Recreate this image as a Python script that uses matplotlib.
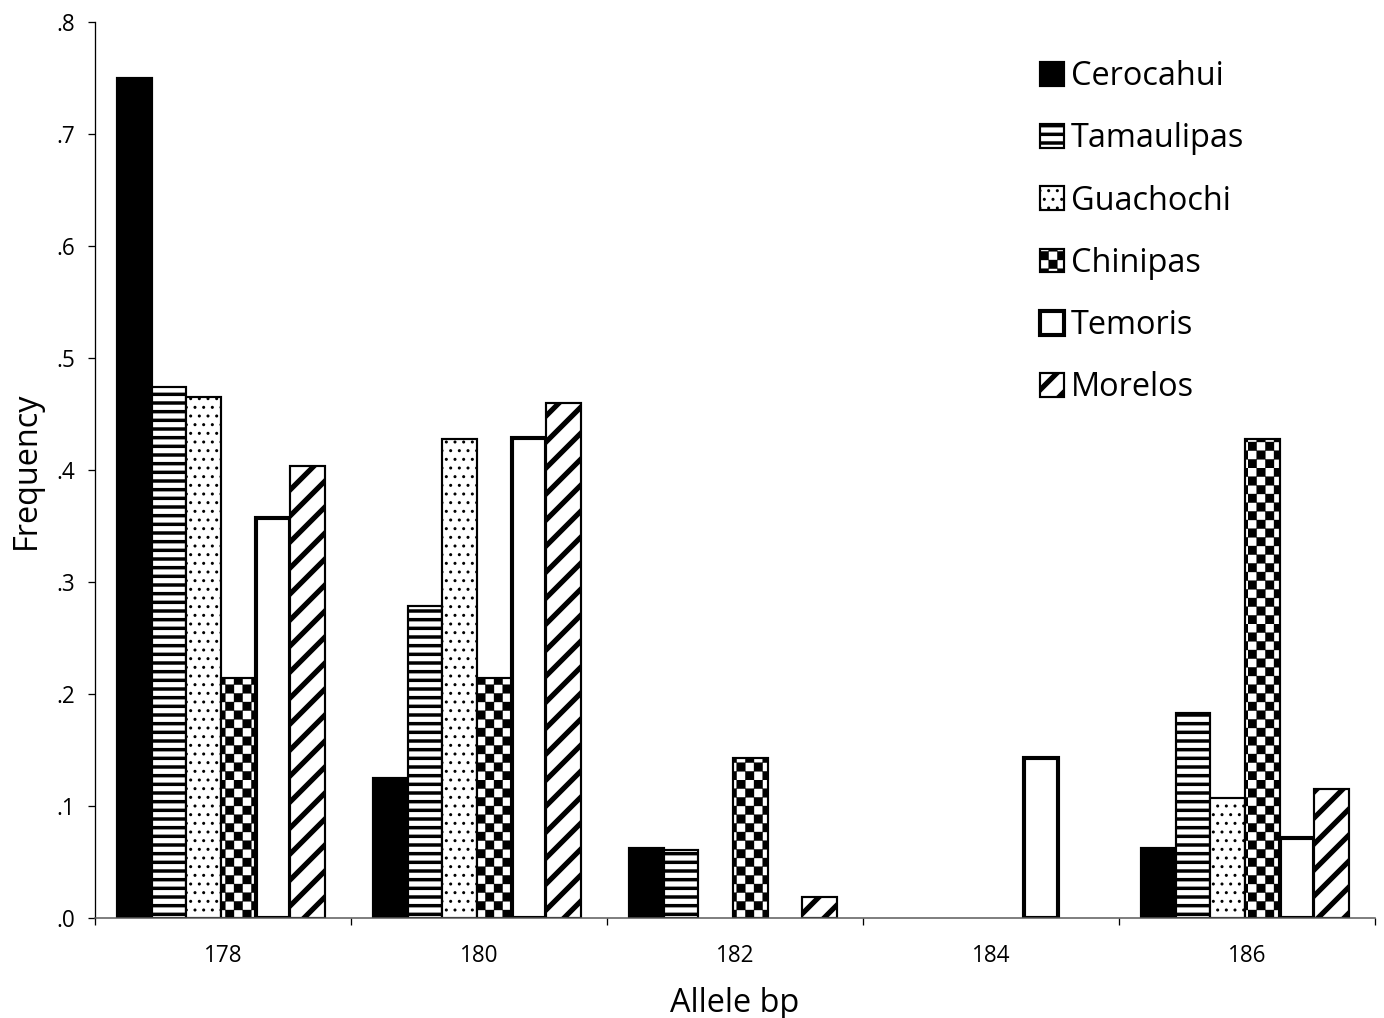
import warnings

import numpy as np
import matplotlib
matplotlib.use("Agg")
import matplotlib.pyplot as plt
import matplotlib.hatch as mhatch
from matplotlib.path import Path
from matplotlib.ticker import FuncFormatter

warnings.filterwarnings("ignore")

alleles = ["178", "180", "182", "184", "186"]
populations = ["Cerocahui", "Tamaulipas", "Guachochi", "Chinipas", "Temoris", "Morelos"]
cerocahui = [0.750, 0.125, 0.0625, 0.0, 0.0625]
tamaulipas = [0.474, 0.279, 0.061, 0.0, 0.183]
guachochi = [0.465, 0.428, 0.0, 0.0, 0.107]
chinipas = [0.214, 0.214, 0.143, 0.0, 0.428]
temoris = [0.357, 0.429, 0.0, 0.143, 0.071]
morelos = [0.404, 0.460, 0.019, 0.0, 0.115]
freqs = [cerocahui, tamaulipas, guachochi, chinipas, temoris, morelos]


class CheckerHatch(mhatch.HatchPatternBase):
    """Checkerboard fill, selected with the letter 'c' in a hatch string."""

    def __init__(self, hatch, density):
        self.num_cells = hatch.count("c") * density
        self.num_vertices = (self.num_cells ** 2 // 2) * 5

    def set_vertices_and_codes(self, vertices, codes):
        step = 1.0 / self.num_cells
        squares = [(i, j) for i in range(self.num_cells)
                   for j in range(self.num_cells) if (i + j) % 2 == 0]
        for k, (i, j) in enumerate(squares):
            x0, y0 = i * step, j * step
            vertices[5 * k:5 * k + 5] = [(x0, y0), (x0 + step, y0),
                                         (x0 + step, y0 + step), (x0, y0 + step),
                                         (x0, y0)]
            codes[5 * k] = Path.MOVETO
            codes[5 * k + 1:5 * k + 4] = Path.LINETO
            codes[5 * k + 4] = Path.CLOSEPOLY


mhatch._hatch_types.append(CheckerHatch)

plt.rcParams["font.family"] = ["Open Sans", "DejaVu Sans"]

DPI = 156
fig = plt.figure(figsize=(1384 / DPI, 1018 / DPI), dpi=DPI)
ax = fig.add_axes([95 / 1384, 100 / 1018, 1280 / 1384, 896 / 1018])

faces = ["black", "white", "white", "white", "white", "white"]
hatches = [None, "---", "...", "ccc", None, "//"]
edge_lw = [1.0, 1.0, 1.0, 1.0, 1.9, 1.0]
hatch_lw = [1.0, 1.6, 0.6, 0.15, 1.0, 2.4]

x = np.arange(len(alleles))
width = 0.135
for i, (name, vals) in enumerate(zip(populations, freqs)):
    bars = ax.bar(x + (i - 2.5) * width - 0.008, vals, width,
                  color=faces[i], edgecolor="black", linewidth=edge_lw[i],
                  hatch=hatches[i], label=name)
    for b, v in zip(bars, vals):
        b.set_hatch_linewidth(hatch_lw[i])
        if v == 0:
            b.set_visible(False)

ax.set_xlim(-0.5, 4.5)
ax.set_ylim(0, 0.8)
ax.set_yticks(np.arange(0, 0.81, 0.1))
ax.yaxis.set_major_formatter(FuncFormatter(lambda v, _: f"{v:.1f}"[1:]))
ax.set_xticks(x)
ax.set_xticklabels(alleles)
ax.set_xticks(np.arange(-0.5, 4.6, 1.0), minor=True)
ax.tick_params(axis="x", which="major", length=0, pad=12, labelsize=10.4)
ax.tick_params(axis="x", which="minor", length=3, width=0.6, direction="out")
ax.tick_params(axis="y", length=3.2, width=0.6, direction="out", pad=6, labelsize=10.4)

for side in ["top", "right"]:
    ax.spines[side].set_visible(False)
ax.spines["left"].set_linewidth(0.6)
ax.spines["bottom"].set_linewidth(0.7)
ax.spines["bottom"].set_color("0.35")

ax.set_xlabel("Allele bp", fontsize=15)
ax.set_ylabel("Frequency", fontsize=15)
ax.xaxis.set_label_coords(0.5, -0.077)
ax.yaxis.set_label_coords(-0.0406, 0.5)

leg = ax.legend(loc="upper left", bbox_to_anchor=(1040 / 1384, 1 - 60 / 1018),
                bbox_transform=fig.transFigure, frameon=False, fontsize=15,
                handlelength=0.75, handleheight=0.75, handletextpad=0.2,
                labelspacing=0.9, borderpad=0, borderaxespad=0)
for i, h in enumerate(leg.legend_handles):
    h.set_hatch_linewidth(hatch_lw[i])

fig.savefig("out.png", dpi=DPI)
plt.close(fig)
